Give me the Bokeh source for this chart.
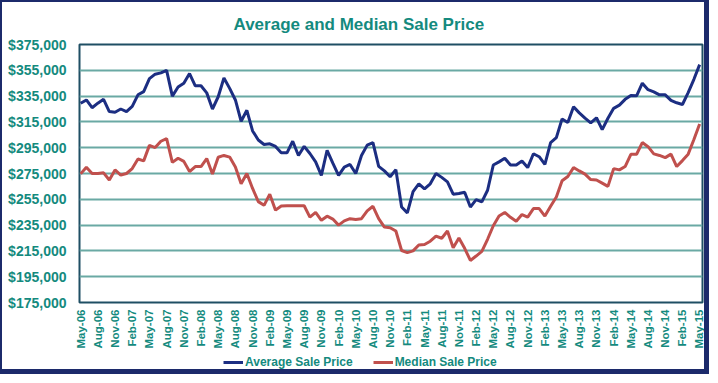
import math
from bokeh.plotting import figure
from bokeh.layouts import column
from bokeh.models import (Range1d, FixedTicker, NumeralTickFormatter, Legend,
                          LegendItem, ColumnDataSource)
from bokeh.embed import file_html
from bokeh.resources import INLINE

# ---- data (monthly, May-06 .. May-15) ----
tick_labels = ["May-06", "Aug-06", "Nov-06", "Feb-07", "May-07", "Aug-07", "Nov-07",
               "Feb-08", "May-08", "Aug-08", "Nov-08", "Feb-09", "May-09", "Aug-09",
               "Nov-09", "Feb-10", "May-10", "Aug-10", "Nov-10", "Feb-11", "May-11",
               "Aug-11", "Nov-11", "Feb-12", "May-12", "Aug-12", "Nov-12", "Feb-13",
               "May-13", "Aug-13", "Nov-13", "Feb-14", "May-14", "Aug-14", "Nov-14",
               "Feb-15", "May-15"]

average_price = [329500, 332000, 326000, 329500, 332500, 323000, 322500, 325000, 323000, 327000,
                 336000, 338500, 348500, 352000, 353000, 355000, 335000, 342000, 345000, 352500,
                 343000, 343000, 337500, 325000, 334500, 349000, 341000, 332000, 315500, 324000,
                 308000, 301000, 297500, 298000, 296000, 291000, 291000, 300000, 289000, 296000,
                 290500, 284000, 273500, 293000, 283000, 273500, 280000, 282000, 275000, 289000,
                 297000, 299000, 280500, 277000, 272500, 278000, 249000, 244500, 261000, 267000,
                 263000, 267000, 275000, 272000, 268500, 259000, 259500, 260500, 249000, 254800,
                 253000, 262000, 281600, 284000, 286800, 281600, 281600, 284700, 279600, 290300,
                 288000, 282000, 299000, 302800, 317300, 314500, 326800, 322000, 318000, 314300,
                 318200, 309000, 317800, 325500, 328000, 332500, 335500, 335200, 345000, 340000,
                 338300, 336000, 336000, 331700, 329800, 328500, 337700, 348000, 359400]

median_price = [274700, 279800, 275000, 275000, 275500, 270000, 277800, 273800, 275000, 278800,
                286200, 284800, 296800, 295100, 300000, 302000, 283600, 286800, 284400, 276500,
                280400, 280400, 286600, 274600, 287600, 289000, 287700, 280000, 267000, 275000,
                263400, 253200, 250300, 259000, 246600, 249800, 250000, 250000, 250000, 250000,
                241200, 244800, 238700, 241900, 239700, 235000, 238300, 240000, 239400, 240000,
                246000, 249600, 240000, 233500, 233000, 230400, 215300, 213700, 215000, 219600,
                220000, 222500, 226500, 224800, 230400, 217500, 225000, 217000, 207600, 211000,
                214700, 224000, 234500, 242000, 244800, 241000, 238000, 243200, 241200, 247800,
                247800, 242000, 249600, 256800, 269400, 272700, 279600, 277000, 274500, 270300,
                270000, 267500, 265000, 278800, 277800, 280400, 289900, 289900, 299000, 295800,
                290200, 289000, 287300, 290000, 280400, 285000, 290000, 301300, 313400]

series_names = ["Average Sale Price", "Median Sale Price"]

y_ticks = [175000, 195000, 215000, 235000, 255000, 275000, 295000, 315000, 335000, 355000, 375000]

month_index = list(range(len(average_price)))
tick_positions = [3 * k for k in range(len(tick_labels))]

TEAL = "#148a7e"
NAVY = "#1c2e82"
RED = "#c0504d"
GRID = "#6aa9a4"
FONT = "Liberation Sans"

src = ColumnDataSource(dict(x=month_index, avg=average_price, med=median_price))

p = figure(width=702, height=350, output_backend="svg", toolbar_location=None,
           x_range=Range1d(-0.2, 108.5), y_range=Range1d(175000, 375000),
           min_border_left=77, min_border_right=2, min_border_top=40, min_border_bottom=50)

p.background_fill_color = "white"
p.border_fill_color = "white"
p.outline_line_color = "#1f4f64"
p.outline_line_width = 2

p.title.text = "Average and Median Sale Price"
p.title.align = "left"
p.title.offset = 154
p.title.standoff = 21
p.title.text_font = FONT
p.title.text_font_size = "17px"
p.title.text_font_style = "bold"
p.title.text_color = TEAL

# y axis
p.yaxis.ticker = FixedTicker(ticks=y_ticks)
p.yaxis.formatter = NumeralTickFormatter(format="$0,0")
p.yaxis.major_label_text_font = FONT
p.yaxis.major_label_text_font_size = "14px"
p.yaxis.major_label_text_font_style = "bold"
p.yaxis.major_label_text_color = TEAL
p.yaxis.major_tick_line_color = None
p.yaxis.major_tick_out = 0
p.yaxis.major_tick_in = 0
p.yaxis.minor_tick_line_color = None
p.yaxis.axis_line_color = None
p.yaxis.major_label_standoff = 13

# x axis
p.xaxis.ticker = FixedTicker(ticks=tick_positions)
p.xaxis.major_label_overrides = {pos: lab for pos, lab in zip(tick_positions, tick_labels)}
p.xaxis.major_label_orientation = math.pi / 2
p.xaxis.major_label_text_font = FONT
p.xaxis.major_label_text_font_size = "11.5px"
p.xaxis.major_label_text_font_style = "bold"
p.xaxis.major_label_text_color = TEAL
p.xaxis.major_tick_line_color = None
p.xaxis.major_tick_out = 0
p.xaxis.major_tick_in = 0
p.xaxis.minor_tick_line_color = None
p.xaxis.axis_line_color = None
p.xaxis.major_label_standoff = 7

p.xgrid.grid_line_color = None
p.ygrid.ticker = FixedTicker(ticks=y_ticks)
p.ygrid.grid_line_color = GRID
p.ygrid.grid_line_width = 2

p.line("x", "avg", source=src, line_color=NAVY, line_width=3)
p.line("x", "med", source=src, line_color=RED, line_width=3)

# ---- legend strip below the chart ----
q = figure(width=702, height=17, output_backend="svg", toolbar_location=None,
           x_range=Range1d(0, 1), y_range=Range1d(0, 1),
           x_axis_type=None, y_axis_type=None, min_border=0)
q.outline_line_color = None
q.grid.grid_line_color = None
q.background_fill_color = "white"
q.border_fill_color = "white"
# legend proxies, kept outside the visible range
l1 = q.line(x=[5, 6], y=[5, 6], line_color=NAVY, line_width=3)
l2 = q.line(x=[5, 6], y=[5, 6], line_color=RED, line_width=3)
legend = Legend(items=[LegendItem(label=series_names[0], renderers=[l1]),
                       LegendItem(label=series_names[1], renderers=[l2])],
                orientation="horizontal", location=(144, 0),
                label_text_font=FONT, label_text_font_size="12px",
                label_text_font_style="bold", label_text_color=TEAL,
                glyph_width=20, glyph_height=14, label_height=14, label_standoff=2,
                spacing=20, padding=0, margin=0, border_line_color=None,
                background_fill_alpha=0)
q.add_layout(legend, "center")

layout = column(p, q, spacing=0,
                styles={"border-style": "solid", "border-color": "#1c2a6b",
                        "border-width": "2px 5px 5px 2px"})

open("out.html", "w").write(file_html(layout, INLINE))
